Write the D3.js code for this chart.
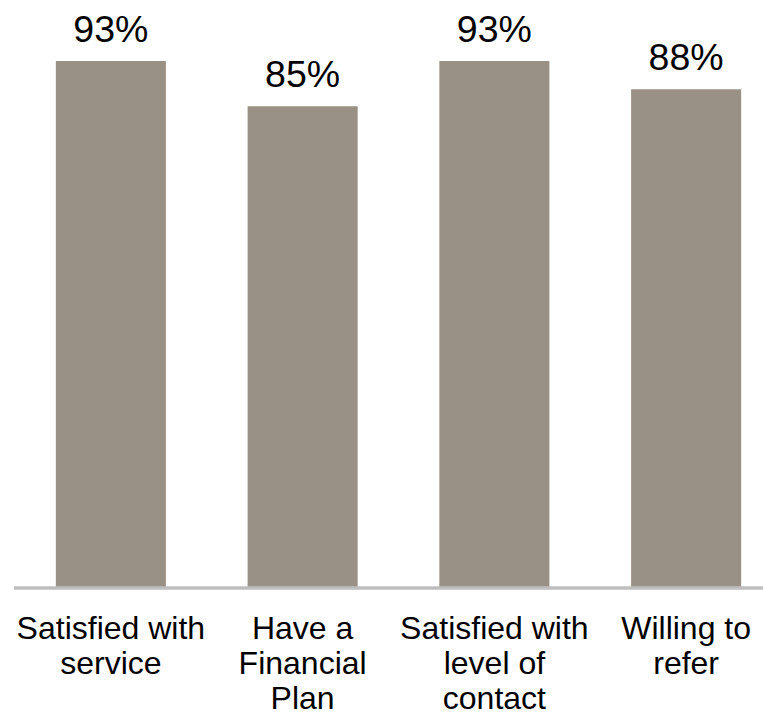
<!DOCTYPE html>
<html>
<head>
<meta charset="utf-8">
<script src="https://cdn.jsdelivr.net/npm/d3@7"></script>
<style>
  html, body { margin: 0; padding: 0; background: #ffffff; }
  svg { display: block; font-family: "Liberation Sans", Arial, sans-serif; }
</style>
</head>
<body>
<svg id="chart" width="763" height="716"></svg>
<script>
// Survey results, share of clients answering positively
const categories = ["Satisfied with service", "Have a Financial Plan", "Satisfied with level of contact", "Willing to refer"];
const values = [93, 85, 93, 88];
// Category labels broken into display lines
const labelLines = [
  ["Satisfied with", "service"],
  ["Have a", "Financial", "Plan"],
  ["Satisfied with", "level of", "contact"],
  ["Willing to", "refer"]
];

const svg = d3.select("#chart");
const baseY = 587;

const x = d3.scaleBand()
  .domain(categories)
  .range([15, 782])
  .paddingInner(0.426)
  .paddingOuter(0.213);

const y = d3.scaleLinear()
  .domain([0, 100])
  .range([baseY, baseY - 565.6]);

// Bars
svg.append("g")
  .selectAll("rect")
  .data(categories)
  .join("rect")
  .attr("x", d => x(d))
  .attr("width", x.bandwidth())
  .attr("y", (d, i) => y(values[i]))
  .attr("height", (d, i) => y(0) - y(values[i]) + 2)
  .attr("fill", "#9a9186");

// Baseline
svg.append("line")
  .attr("x1", 14).attr("x2", 763)
  .attr("y1", baseY + 1).attr("y2", baseY + 1)
  .attr("stroke", "#bebebe")
  .attr("stroke-width", 3.5);

// Value labels
svg.append("g")
  .selectAll("text")
  .data(categories)
  .join("text")
  .attr("x", d => x(d) + x.bandwidth() / 2)
  .attr("y", (d, i) => y(values[i]) - 19)
  .attr("text-anchor", "middle")
  .attr("font-size", 37.5)
  .attr("fill", "#000")
  .text((d, i) => values[i] + "%");

// Category labels
const cat = svg.append("g")
  .selectAll("text")
  .data(categories)
  .join("text")
  .attr("x", d => x(d) + x.bandwidth() / 2)
  .attr("y", 639)
  .attr("text-anchor", "middle")
  .attr("font-size", 32)
  .attr("fill", "#000");

cat.selectAll("tspan")
  .data((d, i) => labelLines[i])
  .join("tspan")
  .attr("x", function () { return d3.select(this.parentNode).attr("x"); })
  .attr("dy", (d, j) => j === 0 ? 0 : 35)
  .text(d => d);
</script>
</body>
</html>
